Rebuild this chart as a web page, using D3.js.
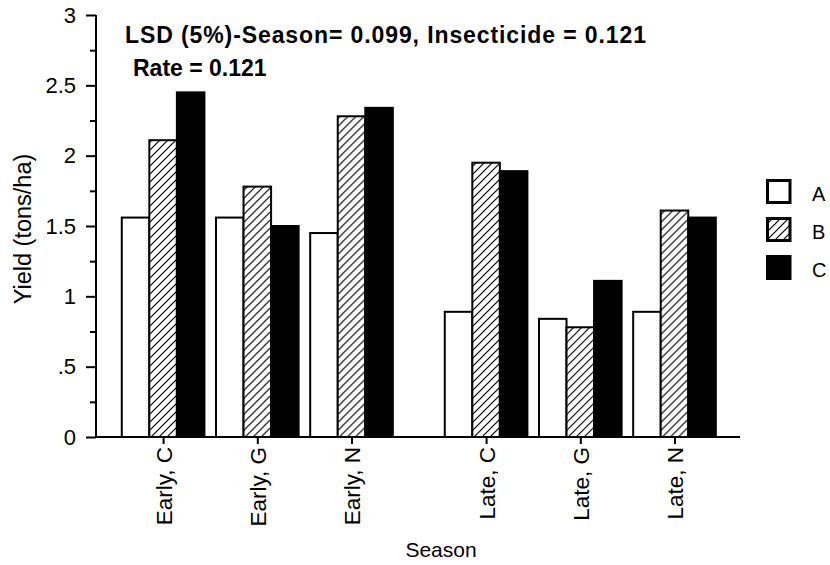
<!DOCTYPE html>
<html>
<head>
<meta charset="utf-8">
<script src="https://cdn.jsdelivr.net/npm/d3@7"></script>
<style>
  html, body { margin: 0; padding: 0; background: #fff; }
  svg { display: block; font-family: "Liberation Sans", Arial, Helvetica, sans-serif; }
</style>
</head>
<body>
<svg id="chart" width="830" height="565"></svg>
<script>
// Yield by season x insecticide, bars for each application rate
const seasons = ["Early", "Late"];
const insecticides = ["C", "G", "N"];
const rates = ["A", "B", "C"];
const rateFills = ["white", "hatch", "black"];

// yield (tons/ha), one row per season+insecticide, values in rate order A, B, C
const earlyC = [1.56, 2.11, 2.45];
const earlyG = [1.56, 1.78, 1.50];
const earlyN = [1.45, 2.28, 2.34];
const lateC  = [0.89, 1.95, 1.89];
const lateG  = [0.84, 0.78, 1.11];
const lateN  = [0.89, 1.61, 1.56];

const yTicks = [0, 0.5, 1, 1.5, 2, 2.5, 3];
const yMinorTicks = [0.25, 0.75, 1.25, 1.75, 2.25, 2.75];
const lsdLine1 = "LSD (5%)-Season= 0.099, Insecticide = 0.121";
const lsdLine2 = "Rate = 0.121";

const rows = [
  { season: "Early", ins: "C", values: earlyC },
  { season: "Early", ins: "G", values: earlyG },
  { season: "Early", ins: "N", values: earlyN },
  { season: "Late",  ins: "C", values: lateC },
  { season: "Late",  ins: "G", values: lateG },
  { season: "Late",  ins: "N", values: lateN }
];

const svg = d3.select("#chart");

// hatch pattern for rate B
const defs = svg.append("defs");
const pat = defs.append("pattern")
  .attr("id", "hatch")
  .attr("patternUnits", "userSpaceOnUse")
  .attr("width", 8).attr("height", 8);
pat.append("rect").attr("width", 8).attr("height", 8).attr("fill", "white");
pat.append("path")
  .attr("d", "M-2,2 L2,-2 M0,8 L8,0 M6,10 L10,6")
  .attr("stroke", "black").attr("stroke-width", 1.2);

const fillFor = f => f === "hatch" ? "url(#hatch)" : f;

// scales
const axisLeftX = 96, axisRightX = 740;
const y = d3.scaleLinear().domain([0, 3]).range([437, 15]);
const xSeason = d3.scaleBand().domain(seasons).range([116, 721.6]).paddingInner(0.125);
const xIns = d3.scaleBand().domain(insecticides).range([0, xSeason.bandwidth()]);
const xRate = d3.scaleBand().domain(rates).range([0, xIns.bandwidth()]).paddingInner(0).paddingOuter(0.21);

const groupX = r => xSeason(r.season) + xIns(r.ins);

// bars
const groups = svg.append("g").selectAll("g.grp")
  .data(rows).join("g")
  .attr("class", "grp")
  .attr("transform", r => `translate(${groupX(r)},0)`);

groups.selectAll("rect")
  .data(r => r.values.map((v, i) => ({ rate: rates[i], v, fill: rateFills[i] })))
  .join("rect")
  .attr("x", d => xRate(d.rate))
  .attr("width", xRate.bandwidth())
  .attr("y", d => y(d.v))
  .attr("height", d => y(0) - y(d.v))
  .attr("fill", d => fillFor(d.fill))
  .attr("stroke", "black")
  .attr("stroke-width", 2);

// y axis: major ticks with labels, minor ticks without
const fmt = v => v === 0 ? "0" : (v < 1 ? d3.format(".1f")(v).replace(/^0/, "") : d3.format("~g")(v));
const yAxis = svg.append("g")
  .attr("transform", `translate(${axisLeftX},0)`)
  .call(d3.axisLeft(y).tickValues(yTicks).tickFormat(fmt).tickSize(10).tickPadding(10));
yAxis.select(".domain").attr("stroke-width", 2).attr("d", `M0,${y(3)}V${y(0)}`);
yAxis.selectAll(".tick line").attr("stroke-width", 2);
yAxis.selectAll(".tick text").attr("font-size", 22).attr("fill", "black")
  .attr("font-family", "'Liberation Sans', Arial, sans-serif");

svg.append("g")
  .attr("transform", `translate(${axisLeftX},0)`)
  .call(d3.axisLeft(y).tickValues(yMinorTicks).tickFormat("").tickSize(6))
  .call(g => g.select(".domain").remove())
  .call(g => g.selectAll(".tick line").attr("stroke-width", 2));

// x axis
const tickPos = rows.map(r => groupX(r) + xIns.bandwidth() / 2);
const xLabel = d3.scaleOrdinal()
  .domain(rows.map(r => `${r.season}, ${r.ins}`))
  .range(tickPos);
const xAxis = svg.append("g")
  .attr("transform", `translate(0,${y(0)})`)
  .call(d3.axisBottom(xLabel).tickSize(7).tickPadding(6));
xAxis.select(".domain").attr("d", `M${axisLeftX},0H${axisRightX}`).attr("stroke-width", 2);
xAxis.selectAll(".tick line").attr("stroke-width", 2);
xAxis.selectAll(".tick text")
  .attr("font-size", 22.5).attr("fill", "black")
  .attr("font-family", "'Liberation Sans', Arial, sans-serif")
  .attr("text-anchor", "end")
  .attr("transform", "rotate(-90)")
  .attr("x", -10).attr("y", 0).attr("dy", "0.36em");

// axis titles
svg.append("text")
  .attr("x", 441).attr("y", 557)
  .attr("text-anchor", "middle")
  .attr("font-size", 21)
  .text("Season");

svg.append("text")
  .attr("transform", "translate(31,229) rotate(-90)")
  .attr("text-anchor", "middle")
  .attr("font-size", 23.5)
  .text("Yield (tons/ha)");

// LSD annotation
svg.append("text")
  .attr("x", 125).attr("y", 43)
  .attr("font-size", 23).attr("font-weight", "bold")
  .attr("textLength", 521).attr("lengthAdjust", "spacing")
  .text(lsdLine1);
svg.append("text")
  .attr("x", 133).attr("y", 76)
  .attr("font-size", 23).attr("font-weight", "bold")
  .text(lsdLine2);

// legend
const legY = d3.scalePoint().domain(rates).range([179, 255]);
const leg = svg.append("g").selectAll("g")
  .data(rates.map((r, i) => ({ r, fill: rateFills[i] })))
  .join("g")
  .attr("transform", d => `translate(766,${legY(d.r)})`);
leg.append("rect")
  .attr("x", 1.5).attr("y", 1.5)
  .attr("width", 22.5).attr("height", 22)
  .attr("fill", d => fillFor(d.fill))
  .attr("stroke", "black").attr("stroke-width", 3);
leg.append("text")
  .attr("x", 46).attr("y", 21.5)
  .attr("font-size", 20)
  .text(d => d.r);
</script>
</body>
</html>
